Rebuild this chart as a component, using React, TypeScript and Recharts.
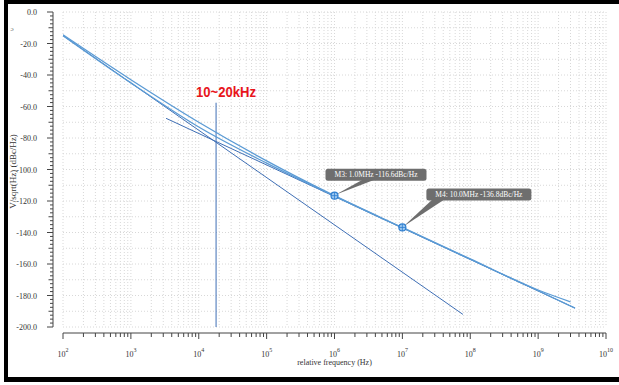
import React from 'react';
import { LineChart, Line, XAxis, YAxis, CartesianGrid, ReferenceDot } from 'recharts';

// ---- data (frequencies in Hz, levels in dBc/Hz) ----
const upperFreqs = [1e2, 1e3, 1e4, 1e5, 1e6, 1e7, 1e8, 1e9, 3e9];
const upperDb = [-14.5, -43, -70, -94.5, -116.6, -136.8, -156.8, -176.5, -184];
const lowerFreqs = [1e2, 1e3, 1e4, 1e5, 1e6, 1e7, 1e8, 1e9, 3.5e9];
const lowerDb = [-15, -45, -73, -96, -116.9, -137, -157, -177, -188];
const flickerFreqs = [1e2, 7.8e7];
const flickerDb = [-15, -192];
const thermalFreqs = [3.3e3, 3.5e9];
const thermalDb = [-67.5, -188];
const bandFreqs = [1.8e4, 1.8e4];
const bandDb = [-57.6, -200];
const bandLabel = '10~20kHz';
const markerNames = ['M3', 'M4'];
const markerFreqLabels = ['1.0MHz', '10.0MHz'];
const markerFreqs = [1e6, 1e7];
const markerDb = [-116.6, -136.8];
const decadeExps = [2, 3, 4, 5, 6, 7, 8, 9, 10];
const minorMults = [1, 2, 3, 4, 5, 6, 7, 8, 9];
const yMin = -200;
const yMax = 0;
const yMinorStep = 2.5;
const yGridStep = 10;
const yTitle = 'V/sqrt(Hz) (dBc/Hz)';
const xTitle = 'relative frequency (Hz)';

const toSeries = (f: number[], v: number[]) => f.map((ff, i) => ({ x: Math.log10(ff), y: v[i] }));

const upperData = toSeries(upperFreqs, upperDb);
const lowerData = toSeries(lowerFreqs, lowerDb);
const flickerData = toSeries(flickerFreqs, flickerDb);
const thermalData = toSeries(thermalFreqs, thermalDb);
const bandData = toSeries(bandFreqs, bandDb);

const xTicks: number[] = [];
decadeExps.forEach((e) => {
  if (e === decadeExps[decadeExps.length - 1]) {
    xTicks.push(e);
  } else {
    minorMults.forEach((m) => xTicks.push(e + Math.log10(m)));
  }
});
const yTicks: number[] = [];
for (let v = yMax; v >= yMin - 1e-9; v -= yMinorStep) yTicks.push(v);
const yGrid: number[] = [];
for (let v = yMax; v >= yMin - 1e-9; v -= yGridStep) yGrid.push(v);

const SERIF = '"Liberation Serif", "DejaVu Serif", serif';
const AXIS = '#444';
const LIGHT = '#5b9bd5';
const DARK = '#3f6fb5';

const XTick = (props: any) => {
  const { x, y, payload } = props;
  const v = payload.value;
  const decade = Math.abs(v - Math.round(v)) < 1e-6;
  return (
    <g>
      <line x1={x} x2={x} y1={y + 6} y2={y + (decade ? 12 : 10)} stroke={AXIS} strokeWidth={1} />
      {decade && (
        <text x={x} y={y + 30} textAnchor="middle" fontFamily={SERIF} fontSize={8} fill="#333">
          10
          <tspan dy={-5} fontSize={6}>{Math.round(v)}</tspan>
        </text>
      )}
    </g>
  );
};

const YTick = (props: any) => {
  const { x, y, payload } = props;
  const v = payload.value;
  const major = Math.abs(v % 20) < 1e-6;
  const mid = Math.abs(v % 10) < 1e-6;
  const len = major ? 6 : mid ? 4.5 : 3;
  return (
    <g>
      <line x1={x - 10} x2={x - 10 - len} y1={y} y2={y} stroke={AXIS} strokeWidth={1} />
      {major && (
        <text x={x - 26} y={y + 3} textAnchor="end" fontFamily={SERIF} fontSize={8} fill="#333">
          {(v === 0 ? 0 : v).toFixed(1)}
        </text>
      )}
    </g>
  );
};

const YLabel = (props: any) => {
  const vb = props.viewBox || { x: 0, y: 12, width: 63, height: 315 };
  const cx = vb.x + 12.5;
  const cy = vb.y + vb.height / 2 + 2;
  return (
    <g>
      <text x={vb.x + 12} y={vb.y + 19} fontFamily={SERIF} fontSize={7} fill="#555" textAnchor="middle">ɔ</text>
      <text x={cx} y={cy} transform={`rotate(-90 ${cx} ${cy})`} textAnchor="middle" dominantBaseline="central" fontFamily={SERIF} fontSize={9} fill="#333">
        {yTitle}
      </text>
    </g>
  );
};

const XLabel = (props: any) => {
  const vb = props.viewBox || { x: 63, y: 327, width: 543, height: 58 };
  return (
    <text x={vb.x + vb.width / 2} y={vb.y + 38} textAnchor="middle" fontFamily={SERIF} fontSize={8} fill="#333">
      {xTitle}
    </text>
  );
};

const BandText = (p: any) => (
  <text x={p.cx + 10} y={p.cy - 6} textAnchor="middle" fill="#e8141b" fontWeight="bold" fontFamily='"Liberation Sans", Arial, sans-serif' fontSize={15} textLength={60} lengthAdjust="spacingAndGlyphs">
    {bandLabel}
  </text>
);

const markerBoxes = [
  { dx: -9, dy: -27, w: 101, px1: 28, px2: 40 },
  { dx: 24, dy: -39, w: 105, px1: 30, px2: 42 },
];

const makeMarker = (i: number) => (p: any) => {
  const { cx, cy } = p;
  const b = markerBoxes[i];
  const bx = cx + b.dx;
  const by = cy + b.dy;
  const h = 12;
  const text = `${markerNames[i]}: ${markerFreqLabels[i]} ${markerDb[i].toFixed(1)}dBc/Hz`;
  return (
    <g>
      <polygon points={`${cx + b.px1},${by + h - 1} ${cx + b.px2},${by + h - 1} ${cx + 1},${cy - 1}`} fill="#6e6e6e" />
      <rect x={bx} y={by} width={b.w} height={h} rx={2.5} fill="#6e6e6e" />
      <text x={bx + b.w / 2} y={by + 8.8} textAnchor="middle" fontFamily={SERIF} fontSize={7.5} fill="#fff">
        {text}
      </text>
      <circle cx={cx} cy={cy} r={3.5} fill="#9cc7ef" stroke="#2f7fd0" strokeWidth={1.2} />
      <line x1={cx - 3.5} x2={cx + 3.5} y1={cy} y2={cy} stroke="#2f7fd0" strokeWidth={0.8} />
      <line x1={cx} x2={cx} y1={cy - 3.5} y2={cy + 3.5} stroke="#2f7fd0" strokeWidth={0.8} />
    </g>
  );
};

export default function App() {
  return (
    <div style={{ position: 'absolute', left: 0, top: 0, width: 619, height: 385, background: '#fff', overflow: 'hidden' }}>
      <div style={{ position: 'absolute', left: 4, top: 0, width: 615, height: 382, borderTop: '4px solid #000', borderLeft: '4px solid #000', borderBottom: '5px solid #000', boxSizing: 'border-box' }} />
      <div style={{ position: 'absolute', left: 0, top: 0 }}>
        <LineChart width={619} height={385} margin={{ top: 12, right: 13, bottom: 0, left: 0 }}>
          <CartesianGrid
            stroke="#d8d8d8"
            strokeDasharray="1 2"
            horizontalValues={yGrid}
            verticalValues={xTicks}
          />
          <XAxis
            type="number"
            dataKey="x"
            domain={[decadeExps[0], decadeExps[decadeExps.length - 1]]}
            ticks={xTicks}
            interval={0}
            allowDataOverflow
            height={58}
            tickSize={0}
            tickMargin={0}
            tickLine={false}
            axisLine={{ stroke: AXIS, transform: 'translate(0,6)' } as any}
            tick={<XTick />}
            label={<XLabel />}
          />
          <YAxis
            type="number"
            domain={[yMin, yMax]}
            ticks={yTicks}
            interval={0}
            allowDataOverflow
            width={63}
            tickSize={0}
            tickMargin={0}
            tickLine={false}
            axisLine={{ stroke: AXIS, transform: 'translate(-10,0)' } as any}
            tick={<YTick />}
            label={<YLabel />}
          />
          <Line data={flickerData} dataKey="y" type="linear" stroke={DARK} strokeWidth={1} dot={false} isAnimationActive={false} />
          <Line data={thermalData} dataKey="y" type="linear" stroke={DARK} strokeWidth={1} dot={false} isAnimationActive={false} />
          <Line data={bandData} dataKey="y" type="linear" stroke={DARK} strokeWidth={1} dot={false} isAnimationActive={false} />
          <Line data={lowerData} dataKey="y" type="monotone" stroke={LIGHT} strokeWidth={1.3} dot={false} isAnimationActive={false} />
          <Line data={upperData} dataKey="y" type="monotone" stroke={LIGHT} strokeWidth={1.3} dot={false} isAnimationActive={false} />
          <ReferenceDot x={Math.log10(bandFreqs[0])} y={bandDb[0]} r={0} shape={BandText} />
          {markerFreqs.map((f, i) => (
            <ReferenceDot key={markerNames[i]} x={Math.log10(f)} y={markerDb[i]} r={4} shape={makeMarker(i)} />
          ))}
        </LineChart>
      </div>
    </div>
  );
}
